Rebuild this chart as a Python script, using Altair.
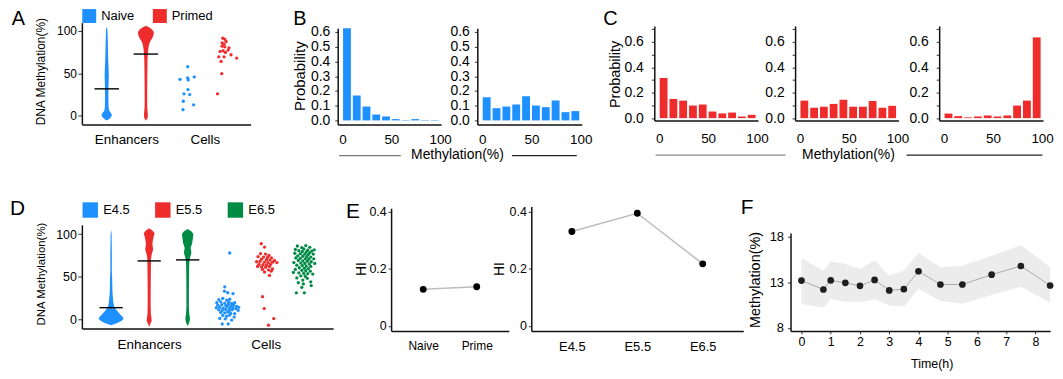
import altair as alt
import pandas as pd

# ======================= DATA =======================
# ---- Panel A: naive vs primed ----
A_GROUPS = ["Naive", "Primed"]
A_NAIVE_LEVEL = [-5.6, -4.5, -1.8, 1.3, 4, 6, 9, 12, 20, 30, 40, 47, 55, 65, 75, 85, 95, 102, 105]
A_NAIVE_DENS = [0, .21, .53, .66, .46, .31, .25, .23, .21, .21, .24, .26, .24, .19, .16, .14, .11, .08, 0]
A_PRIMED_LEVEL = [-6, -3, 0, 3, 8, 15, 30, 50, 65, 72, 78, 83, 87, 90, 93, 96, 99, 102, 104, 106]
A_PRIMED_DENS = [0, .19, .25, .23, .18, .16, .16, .18, .2, .23, .29, .38, .5, .69, .88, .98, .98, .75, .44, 0]
A_MEDIAN = [31.7, 72.7]
A_CELL_NAIVE = [57.8, 42.9, 44.5, 42.2, 45.7, 30.8, 25.8, 25.0, 17.1, 12.9, 7.2]
A_CELL_NAIVE_JIT = [0.6, -7.1, 0.6, 1.2, 7.2, 0.9, -3.1, 2.6, -3.8, 6.6, -4.1]
A_CELL_PRIMED = [91.4, 90.2, 87.5, 86.0, 84.4, 82.0, 81.2, 80.0, 77.4, 75.8, 76.6, 74.6,
                 71.9, 69.5, 69.5, 68.0, 64.0, 49.6, 25.8]
A_CELL_PRIMED_JIT = [-1.1, 0.9, 2.2, -1.8, 0.2, -1.8, 0.9, 5.2, 4.2, -3.8, -0.8, 1.6,
                     7.2, -5.1, 0.2, 12.9, -2.8, -2.1, -6.4]

# ---- Panels B / C: methylation histograms ----
BIN_START = [0, 10, 20, 30, 40, 50, 60, 70, 80, 90]
B_LEFT = [0.625, 0.169, 0.094, 0.040, 0.027, 0.009, 0.003, 0.009, 0.003, 0.003]
B_RIGHT = [0.157, 0.083, 0.094, 0.108, 0.164, 0.101, 0.090, 0.135, 0.056, 0.063]
C_LEFT = [0.316, 0.151, 0.138, 0.099, 0.107, 0.052, 0.037, 0.044, 0.013, 0.026]
C_MID = [0.138, 0.082, 0.090, 0.112, 0.145, 0.090, 0.090, 0.135, 0.082, 0.097]
C_RIGHT = [0.036, 0.016, 0.006, 0.013, 0.021, 0.013, 0.021, 0.099, 0.138, 0.636]

# ---- Panel D: embryonic stages ----
D_GROUPS = ["E4.5", "E5.5", "E6.5"]
D_E45_LEVEL = [-7, -5, -3, -1, 1, 3, 6, 10, 14, 20, 31, 45, 58, 75, 90, 100, 105]
D_E45_DENS = [0, .4, .72, .92, 1, .92, .72, .48, .26, .18, .11, .09, .06, .06, .05, .04, 0]
D_E55_LEVEL = [-9, -6, -2, 2, 6, 15, 30, 50, 62, 70, 76, 82, 88, 93, 98, 101, 104, 107]
D_E55_DENS = [0, .08, .2, .18, .14, .12, .12, .13, .14, .14, .2, .32, .26, .3, .38, .44, .28, 0]
D_E65_LEVEL = [-8, -5, -1, 2, 6, 15, 30, 50, 62, 68, 72, 78, 84, 89, 95, 100, 103, 106]
D_E65_DENS = [0, .1, .18, .18, .13, .1, .1, .11, .12, .14, .18, .3, .24, .36, .42, .46, .32, 0]
D_MEDIAN = [13.6, 68.5, 69.7]
D_CELL_E45 = [77.8, 38.1, 33.0, 31.1, 30.0,
              23, 24.5, 22.5, 23.5, 19.5, 20.5, 19, 20, 18.5, 19.5,
              16.5, 17, 16, 17.5, 15.5, 16.5, 15,
              13.5, 14, 13, 14.5, 12.5, 13.5, 12.5, 14,
              11, 10.5, 11.5, 10, 11, 10.5,
              8, 7.5, 8.5, 7, 6.5,
              4.5, 3.5, 5, 2.5, 1, 0.5, -1,
              -5.5, -5.5]
D_CELL_E45_JIT = [3, -2, -2.3, 1, 6.3,
                  -8, -4, 0, 3, -10, -6, -2, 2, 5, 8,
                  -9, -5, -1, 1.5, 4, 7, 10,
                  -10.5, -7, -3.5, 0.5, 3, 6, 9, 12,
                  -8, -4.5, -1, 2.5, 5.5, 11.5,
                  -6, -2, 1, 4, 8,
                  -4, 0, 3, 7.5, -7, -1.5, 5,
                  -4.5, 1.5]
D_CELL_E55 = [88.7, 84.8,
              77, 76.5, 75, 73.5, 73, 72.5, 72, 70.5, 70, 69.5, 69,
              67.5, 68, 67, 66.5, 67, 66.5, 64.5, 64, 63.5, 64.5, 62, 61.5, 61, 62, 58.5, 58, 59, 55.5,
              56.4, 51.4,
              26.5, 12.5, 0.8, -7]
D_CELL_E55_JIT = [-5.3, -2,
                  -6, -1, 2.5, -8.5, -3, 1, 5, -5, 0, 3.5, 8,
                  -10, -6.5, -2, 1.5, 6, 10.5, -7.5, -3.5, 0, 4, -9, -5, -1, 3, -4, 2, 6, -2,
                  4.7, 3,
                  -4, -2.3, 7.3, 2]
D_CELL_E65 = [86, 86.5, 84, 84.5, 81.5, 82, 82.5, 81, 80,
              80.5, 79.5, 79, 78, 77.5, 77, 76.5, 76, 76.5,
              74.5, 74, 73.5, 73, 72, 71.5, 71, 70.5, 71,
              69, 68.5, 68, 67.5, 66.5, 66, 65.5, 65, 65.5,
              63.5, 63, 62.5, 62, 60.5, 60, 59.5, 58.5, 57.5, 57, 56.5,
              55, 54.5, 54, 53.5, 53, 51, 50.5, 48.5, 48, 46,
              44, 43, 41.5, 39.5, 37.5, 31, 31]
D_CELL_E65_JIT = [-7.5, 1, -3, 5, 9.5, -9.5, -1, 3, 7,
                  -6, -2.5, 1.5, 5, -10, -4.5, 0, 3.5, 8.5,
                  -7, -2, 2, 6, -9, -4.5, 0.5, 4, 9,
                  -6.5, -2, 2.5, 6.5, -11, -4, 0, 4.5, 10,
                  -8, -2.5, 1.5, 6, -5.5, -0.5, 3.5, -9.5, -3, 1, 5.5,
                  -11.5, -6, -1, 3, 8, -4, 0.5, -8, 2.5, -2,
                  6, -6.5, -1.5, 6.5, -3, -8.5, -0.5]

# ---- Panel E: heterogeneity index ----
E1_LABELS = ["Naive", "Prime"]
E1_HI = [0.128, 0.137]
E2_LABELS = ["E4.5", "E5.5", "E6.5"]
E2_HI = [0.330, 0.394, 0.217]

# ---- Panel F: time course ----
F_TIME = [0, 0.75, 1, 1.5, 2, 2.5, 3, 3.5, 4, 4.75, 5.5, 6.5, 7.5, 8.5]
F_MEAN = [13.18, 12.2, 13.2, 12.93, 12.6, 13.25, 12.1, 12.24, 14.2, 12.75, 12.75, 13.83, 14.78, 12.64]
F_LOW = [10.64, 10.2, 11.19, 10.86, 10.83, 11.1, 10.46, 10.3, 12.3, 10.93, 10.64, 11.6, 12.5, 10.75]
F_HIGH = [15.64, 14.27, 15.28, 15.0, 14.45, 15.4, 13.72, 14.27, 16.2, 14.67, 14.8, 15.9, 17.06, 14.63]

# ======================= STYLE / LAYOUT =======================
FONT = "Liberation Sans"
BLUE, RED, GREEN = "#1E90FF", "#EE2C2C", "#008B45"
W, H, M = 1053, 369, 8   # plot area size, page margin


def X(p):
    return p - M


def Y(p):
    return p - M


AX_BASE = dict(grid=False, domainColor="#111111", domainWidth=1.5, tickColor="#333333",
               labelFont=FONT, titleFont=FONT, labelColor="black", titleColor="black",
               titleFontWeight="normal", labelOverlap=False, labelFlush=False)


def left_axis(xp, title=None, tpos=None, **kw):
    d = dict(AX_BASE, orient="left", offset=-(xp - M), title=title)
    if title is not None:
        d.update(titleX=tpos[0] - xp, titleY=Y(tpos[1]), titleAlign="center",
                 titleBaseline="middle", titleAngle=270)
    d.update(kw)
    return alt.Axis(**d)


def bottom_axis(yp, title=None, tpos=None, **kw):
    d = dict(AX_BASE, orient="bottom", offset=(yp - M) - H, title=title, labelAngle=0)
    if title is not None:
        d.update(titleX=X(tpos[0]), titleY=tpos[1] - yp, titleAlign="center",
                 titleBaseline="middle")
    d.update(kw)
    return alt.Axis(**d)


def hscale(dom, left, right):
    return alt.Scale(domain=dom, range=[X(left), X(right)], nice=False, zero=False)


def vscale(dom, top, bottom):
    return alt.Scale(domain=dom, range=[Y(bottom), Y(top)], nice=False, zero=False)


def legend(xp, yp, colpad, symsize):
    return alt.Legend(orient="none", legendX=X(xp), legendY=Y(yp), direction="horizontal",
                      title=None, symbolType="square", symbolSize=symsize, symbolStrokeWidth=0,
                      symbolOpacity=1, labelFontSize=13, labelFont=FONT, labelColor="black",
                      columnPadding=colpad, labelOffset=5, padding=0)


# ======================= BUILDERS =======================
def violin_tables(groups, levels, dens, centers, half_px, pxu, medians, med_half_px,
                  cell_vals, cell_jit, cell_centers):
    vr = []
    for g, lv, ds in zip(groups, levels, dens):
        for l, d in zip(lv, ds):
            w = d * half_px / pxu
            vr.append({"group": g, "level": l, "lo": centers[g] - w, "hi": centers[g] + w})
    mr = [{"group": g, "median": m, "lo": centers[g] - med_half_px / pxu,
           "hi": centers[g] + med_half_px / pxu} for g, m in zip(groups, medians)]
    cr = []
    for g, vals, jits in zip(groups, cell_vals, cell_jit):
        for v, j in zip(vals, jits):
            cr.append({"group": g, "x": cell_centers[g] + j / pxu, "y": v})
    return pd.DataFrame(vr), pd.DataFrame(mr), pd.DataFrame(cr)


def violin_panel(vdf, mdf, cdf, xs, ys, xax, yax, color, pt_size):
    def XX(f):
        return alt.X(f, scale=xs, axis=xax)

    def YY(f):
        return alt.Y(f, scale=ys, axis=yax)

    viol = alt.Chart(vdf).mark_area(orient="horizontal", opacity=1, interpolate="linear").encode(
        y=YY("level:Q"), x=XX("lo:Q"), x2="hi:Q", color=color)
    med = alt.Chart(mdf).mark_rule(color="black", strokeWidth=1.4).encode(
        y=YY("median:Q"), x=XX("lo:Q"), x2="hi:Q")
    pts = alt.Chart(cdf).mark_circle(size=pt_size, opacity=1).encode(
        x=XX("x:Q"), y=YY("y:Q"), color=color)
    return alt.layer(viol, med, pts)


def hist_panel(values, color, xr, yr, ydom, yax, xax):
    df = pd.DataFrame({"start": BIN_START, "p": values})
    df["x0"] = df["start"] + 0.5
    df["x1"] = df["start"] + 8.5
    xs = hscale([-5, 101], xr[0], xr[1])
    ys = vscale(ydom, yr[0], yr[1])
    return alt.Chart(df).mark_bar(color=color, opacity=1).encode(
        x=alt.X("x0:Q", scale=xs, axis=xax), x2="x1:Q",
        y=alt.Y("p:Q", scale=ys, axis=yax), y2=alt.datum(0))


def text_mark(text, xp, yp, size, align="left", baseline="alphabetic"):
    return alt.Chart(pd.DataFrame({"t": [text]})).mark_text(
        align=align, baseline=baseline, fontSize=size, font=FONT, color="black").encode(
        x=alt.value(X(xp)), y=alt.value(Y(yp)), text="t:N")


def hline(x1, x2, yp, color):
    return alt.Chart(pd.DataFrame({"k": [0]})).mark_rule(color=color, strokeWidth=1.3).encode(
        x=alt.value(X(x1)), x2=alt.value(X(x2)), y=alt.value(Y(yp)))


layers = []

# ---------------- Panel A ----------------
A_PXU = (252 - 82.3) / 4
A_CENTER = {"Naive": 0.589, "Primed": 1.518}
A_CELL_CENTER = {"Naive": 2.494, "Primed": 3.366}
a_v, a_m, a_c = violin_tables(A_GROUPS, [A_NAIVE_LEVEL, A_PRIMED_LEVEL], [A_NAIVE_DENS, A_PRIMED_DENS],
                              A_CENTER, 8.0, A_PXU, A_MEDIAN, 12.3,
                              [A_CELL_NAIVE, A_CELL_PRIMED], [A_CELL_NAIVE_JIT, A_CELL_PRIMED_JIT],
                              A_CELL_CENTER)
A_xs = hscale([0, 4], 82.3, 252)
A_ys = vscale([-10.2, 109.7], 21.7, 124)
A_xax = bottom_axis(124, values=[1.054, 2.916], ticks=False, labelFontSize=13.5, labelPadding=8,
                    labelExpr="datum.value < 2 ? 'Enhancers' : 'Cells'")
A_yax = left_axis(82.3, title="DNA Methylation(%)", tpos=(41, 70.5), titleFontSize=12,
                  values=[0, 50, 100], tickSize=4, labelPadding=1.5, labelFontSize=12)
A_color = alt.Color("group:N", scale=alt.Scale(domain=A_GROUPS, range=[BLUE, RED]),
                    legend=legend(82.7, 8, 18, 196))
layers.append(violin_panel(a_v, a_m, a_c, A_xs, A_ys, A_xax, A_yax, A_color, 11))

# ---------------- Panel B ----------------
B_YDOM = [-0.027, 0.625]
B_YR = (27.3, 124)
B_VALS = [0, 0.1, 0.2, 0.3, 0.4, 0.5, 0.6]
layers.append(hist_panel(
    B_LEFT, BLUE, (339.6, 443.6), B_YR, B_YDOM,
    left_axis(339.6, title="Probability", tpos=(301.7, 75), titleFontSize=15,
              values=B_VALS, format=".1f", tickSize=3, labelPadding=5, labelFontSize=14),
    bottom_axis(124, values=[0, 50, 100], ticks=False, labelFontSize=13.5, labelPadding=8)))
layers.append(hist_panel(
    B_RIGHT, BLUE, (480, 585), B_YR, B_YDOM,
    left_axis(480, values=B_VALS, format=".1f", tickSize=3, labelPadding=5, labelFontSize=14),
    bottom_axis(124, values=[0, 50, 100], ticks=False, labelFontSize=13.5, labelPadding=8)))

# ---------------- Panel C ----------------
C_YDOM = [-0.018, 0.726]
C_YR = (25, 120)
C_VALS = [0, 0.1, 0.2, 0.3, 0.4, 0.5, 0.6, 0.7]
C_LABEL = "indexof(['0.0','0.2','0.4','0.6'], format(datum.value, '.1f')) >= 0 ? format(datum.value, '.1f') : ''"
for vals, xr, title in [(C_LEFT, (658, 762.3), True), (C_MID, (799.6, 903.6), False),
                        (C_RIGHT, (944.5, 1049), False)]:
    kw = dict(values=C_VALS, labelExpr=C_LABEL, tickSize=3, labelPadding=8, labelFontSize=14)
    if title:
        yax = left_axis(xr[0], title="Probability", tpos=(619.5, 73.3), titleFontSize=14.5, **kw)
    else:
        yax = left_axis(xr[0], **kw)
    layers.append(hist_panel(vals, RED, xr, C_YR, C_YDOM, yax,
                             bottom_axis(120, values=[0, 50, 100], ticks=False,
                                         labelFontSize=13.5, labelPadding=11)))

# ---------------- Panel D ----------------
D_PXU = (335 - 82.3) / 6
D_CENTER = {"E4.5": 0.698, "E5.5": 1.607, "E6.5": 2.526}
D_CELL_CENTER = {"E4.5": 3.459, "E5.5": 4.409, "E6.5": 5.323}
d_v, d_m, d_c = violin_tables(D_GROUPS, [D_E45_LEVEL, D_E55_LEVEL, D_E65_LEVEL],
                              [D_E45_DENS, D_E55_DENS, D_E65_DENS], D_CENTER, 12.5, D_PXU,
                              D_MEDIAN, 11.7, [D_CELL_E45, D_CELL_E55, D_CELL_E65],
                              [D_CELL_E45_JIT, D_CELL_E55_JIT, D_CELL_E65_JIT], D_CELL_CENTER)
D_xs = hscale([0, 6], 82.3, 335)
D_ys = vscale([-10.9, 110.9], 225, 329.3)
D_xax = bottom_axis(329.3, values=[1.607, 4.39], ticks=False, labelFontSize=13.5, labelPadding=9,
                    labelExpr="datum.value < 3 ? 'Enhancers' : 'Cells'")
D_yax = left_axis(82.3, title="DNA Methylation(%)", tpos=(41.7, 274), titleFontSize=11.5,
                  values=[0, 50, 100], tickSize=4, labelPadding=1.5, labelFontSize=12.5)
D_color = alt.Color("group:N", scale=alt.Scale(domain=D_GROUPS, range=[BLUE, RED, GREEN]),
                    legend=legend(82.7, 202, 25, 240))
layers.append(violin_panel(d_v, d_m, d_c, D_xs, D_ys, D_xax, D_yax, D_color, 11))


# ---------------- Panel E ----------------
def hi_panel(labels, vals, xr, pad, ydom, ytop, xp_axis, tpos, fs):
    df = pd.DataFrame({"cond": labels, "hi": vals})
    xs = alt.Scale(type="point", domain=labels, range=[X(xr[0]), X(xr[1])], padding=pad)
    ys = vscale(ydom, ytop, 331.7)
    xax = bottom_axis(331.7, ticks=False, labelFontSize=fs, labelPadding=10)
    yax = left_axis(xp_axis, title="HI", tpos=tpos, titleFontSize=14, values=[0, 0.2, 0.4],
                    format="~g", tickSize=3, labelPadding=2, labelFontSize=12.5)
    enc = dict(x=alt.X("cond:N", scale=xs, axis=xax, sort=labels),
               y=alt.Y("hi:Q", scale=ys, axis=yax))
    line = alt.Chart(df).mark_line(color="#bdbdbd", strokeWidth=1.5).encode(**enc)
    pts = alt.Chart(df).mark_circle(size=48, color="black", opacity=1).encode(**enc)
    return alt.layer(line, pts)


layers.append(hi_panel(E1_LABELS, E1_HI, (393.3, 511.7), 0.6, [-0.0174, 0.412], 208.3, 393.3,
                       (364, 269), 12))
layers.append(hi_panel(E2_LABELS, E2_HI, (534.3, 747.5), 0.62, [-0.0174, 0.417], 206.7, 534.3,
                       (502.3, 269), 13))

# ---------------- Panel F ----------------
f_df = pd.DataFrame({"t": F_TIME, "m": F_MEAN, "lo": F_LOW, "hi": F_HIGH})
F_xs = hscale([-0.374, 8.5], 795, 1056.1)
F_ys = vscale([7.66, 18.39], 233.3, 331.7)
F_xax = bottom_axis(331.7, title="Time(h)", tpos=(937, 365), titleFontSize=12.5,
                    values=list(range(9)), format="d", tickSize=3, labelPadding=2,
                    labelFontSize=12.5)
F_yax = left_axis(795, title="Methylation(%)", tpos=(760, 280), titleFontSize=14.5,
                  values=[8, 13, 18], tickSize=3, labelPadding=4, labelFontSize=13)
f_band = alt.Chart(f_df).mark_area(color="#ececec", opacity=1).encode(
    x=alt.X("t:Q", scale=F_xs, axis=F_xax), y=alt.Y("lo:Q", scale=F_ys, axis=F_yax), y2="hi:Q")
f_line = alt.Chart(f_df).mark_line(color="#aaaaaa", strokeWidth=1).encode(
    x=alt.X("t:Q", scale=F_xs, axis=F_xax), y=alt.Y("m:Q", scale=F_ys, axis=F_yax))
f_pts = alt.Chart(f_df).mark_circle(size=45, color="#1e1e1e", opacity=1).encode(
    x=alt.X("t:Q", scale=F_xs, axis=F_xax), y=alt.Y("m:Q", scale=F_ys, axis=F_yax))
layers.append(alt.layer(f_band, f_line, f_pts))

# ---------------- annotations ----------------
layers += [
    text_mark("A", 11.7, 8, 20, baseline="top"), text_mark("B", 295, 8, 20, baseline="top"),
    text_mark("C", 606.7, 8, 20, baseline="top"),
    text_mark("D", 10, 215, 21), text_mark("E", 348, 218.3, 21), text_mark("F", 745, 214, 21),
    text_mark("Methylation(%)", 460, 155, 14, align="center", baseline="middle"),
    text_mark("Methylation(%)", 853.3, 154.5, 14, align="center", baseline="middle"),
    hline(341, 403, 155.5, "#777777"), hline(515, 580, 155.5, "#222222"),
    hline(659.3, 790, 155, "#888888"), hline(911.7, 1048.3, 155, "#222222"),
]

chart = alt.layer(*layers).resolve_scale(
    x="independent", y="independent", color="independent"
).properties(
    width=W, height=H, padding=0, autosize=alt.AutoSizeParams(type="none")
).configure(font=FONT).configure_view(stroke=None)

chart.save("out.html", embed_options={"renderer": "svg", "actions": False})
